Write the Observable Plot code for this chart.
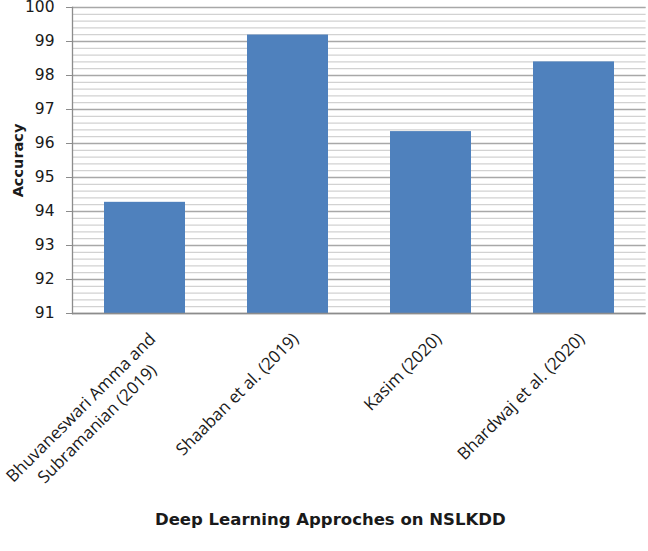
<!DOCTYPE html>
<html>
<head>
<meta charset="utf-8">
<script src="https://cdn.jsdelivr.net/npm/d3@7"></script>
<script src="https://cdn.jsdelivr.net/npm/@observablehq/plot@0.6"></script>
<style>
  html, body { margin: 0; padding: 0; background: #fff; }
  body { width: 648px; height: 551px; overflow: hidden; font-family: "DejaVu Sans", sans-serif; }
</style>
</head>
<body>
<script>
const categories = [
  "Bhuvaneswari Amma and\nSubramanian (2019)",
  "Shaaban et al. (2019)",
  "Kasim (2020)",
  "Bhardwaj et al. (2020)"
];
const accuracy = [94.27, 99.19, 96.35, 98.4];
const yTicks = [91, 92, 93, 94, 95, 96, 97, 98, 99, 100];
const minorStep = 0.2;
const yTitle = "Accuracy";
const xTitle = "Deep Learning Approches on NSLKDD";

const data = categories.map((c, i) => ({label: c, value: accuracy[i]}));
const minorTicks = d3.range(yTicks[0] * 10, yTicks[yTicks.length - 1] * 10 + 1, minorStep * 10).map(v => v / 10);

const chart = Plot.plot({
  width: 648,
  height: 551,
  marginTop: 7,
  marginBottom: 238,
  marginLeft: 72,
  marginRight: 2.4,
  style: {fontFamily: "'DejaVu Sans', sans-serif", fontSize: "15px", color: "#1a1a1a", background: "#fff", overflow: "visible"},
  x: {domain: categories, paddingInner: 0.435, paddingOuter: 0.2175},
  y: {domain: [91, 100]},
  marks: [
    Plot.ruleY(minorTicks, {stroke: "#d2d2d2", strokeWidth: 1.2}),
    Plot.ruleY(yTicks, {stroke: "#a8a8a8", strokeWidth: 1.3}),
    Plot.barY(data, {x: "label", y1: yTicks[0], y2: "value", fill: "#4f81bd"}),
    Plot.frame({anchor: "left", stroke: "#8c8c8c", strokeWidth: 1.3}),
    Plot.ruleY([yTicks[0]], {stroke: "#8c8c8c", strokeWidth: 1.3}),
    Plot.axisY({
      ticks: yTicks, tickSize: 6, tickPadding: 12, stroke: "#8c8c8c",
      tickFormat: d => String(d), fontSize: 15.5,
      label: null
    }),
    Plot.axisX({ticks: [], label: null}),
    Plot.text([yTitle], {
      text: d => d, frameAnchor: "left", textAnchor: "middle", dx: -54, rotate: -90,
      fontSize: 14.5, fontWeight: "bold", fill: "#1a1a1a"
    }),
    Plot.text(data, {
      x: "label", text: "label", frameAnchor: "bottom",
      rotate: -45, textAnchor: "end", lineAnchor: "top", lineHeight: 1.35,
      dx: 0, dy: 15, fontSize: 17, fill: "#1a1a1a", className: "xlab",
      fontFamily: "'Open Sans', sans-serif"
    }),
    Plot.text([xTitle], {
      text: d => d, frameAnchor: "bottom", dy: 211, dx: -29,
      fontSize: 16.5, fontWeight: "bold", fill: "#1a1a1a"
    })
  ]
});

document.body.append(chart);

// Center the lines of multi-line tick labels (as the original chart does)
chart.querySelectorAll(".xlab text").forEach(t => {
  const spans = Array.from(t.querySelectorAll("tspan"));
  if (spans.length < 2) return;
  const lens = spans.map(s => s.getComputedTextLength());
  const maxLen = Math.max(...lens);
  spans.forEach((s, i) => s.setAttribute("x", -(maxLen - lens[i]) / 2));
});
</script>
</body>
</html>
